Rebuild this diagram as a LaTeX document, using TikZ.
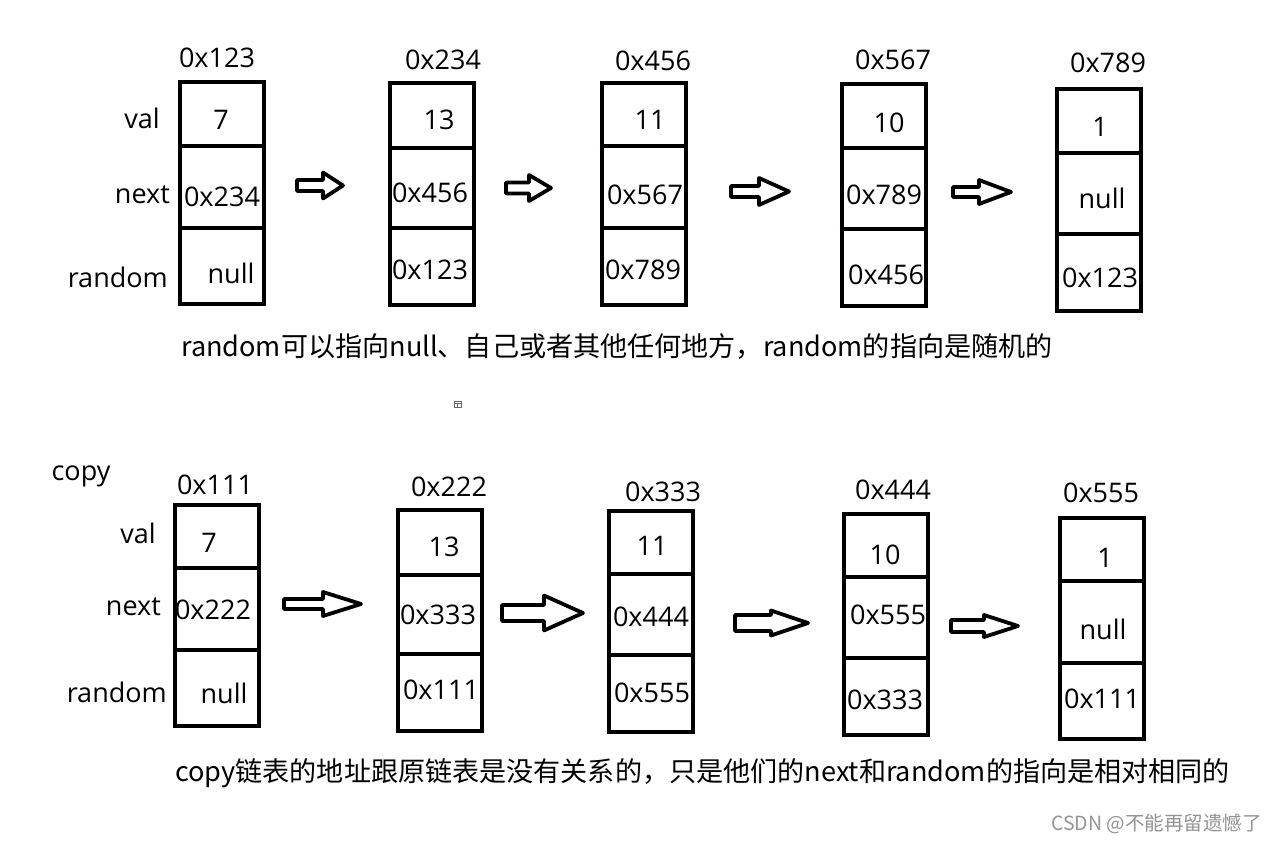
\documentclass[tikz,border=0pt]{standalone}
\usepackage{fontspec}
\setmainfont{Open Sans}
\newfontfamily\cjkfont{Noto Sans CJK SC}
\usetikzlibrary{calc}

% hollow block arrow: start, tip, head length, shaft half height, head half height
\newcommand{\blockarrow}[5]{%
  \draw[arrowline] ($(#1)+(0,#4)$) -- ($(#2)+(-#3,#4)$) -- ($(#2)+(-#3,#5)$) -- (#2)
    -- ($(#2)+(-#3,-#5)$) -- ($(#2)+(-#3,-#4)$) -- ($(#1)+(0,-#4)$) -- cycle;}

\begin{document}
\begin{tikzpicture}[x=1bp,y=-1bp,
    listbox/.style={draw,line width=4bp,inner sep=0pt,minimum width=84bp,minimum height=221bp},
    boxline/.style={line width=4bp},
    arrowline/.style={line width=3.8bp,line join=round},
    txt/.style={inner sep=0pt,font=\fontsize{27bp}{32bp}\selectfont},
    fieldname/.style={txt,anchor=east},
    caption/.style={inner sep=0pt,anchor=west,font=\cjkfont\fontsize{27.1bp}{33bp}\selectfont}]
    \useasboundingbox (0,0) rectangle (1276,843);

    % Original list: boxes
    \node[listbox] (t1) at (221.5,193) {};
    \node[listbox] (t2) at (431.5,194) {};
    \node[listbox] (t3) at (643.5,194) {};
    \node[listbox] (t4) at (883.5,195) {};
    \node[listbox] (t5) at (1099,200) {};
    \draw[boxline] (t1.west |- 0,146) -- (t1.east |- 0,146);
    \draw[boxline] (t1.west |- 0,228) -- (t1.east |- 0,228);
    \draw[boxline] (t2.west |- 0,148) -- (t2.east |- 0,148);
    \draw[boxline] (t2.west |- 0,228) -- (t2.east |- 0,228);
    \draw[boxline] (t3.west |- 0,146) -- (t3.east |- 0,146);
    \draw[boxline] (t3.west |- 0,228) -- (t3.east |- 0,228);
    \draw[boxline] (t4.west |- 0,148) -- (t4.east |- 0,148);
    \draw[boxline] (t4.west |- 0,229) -- (t4.east |- 0,229);
    \draw[boxline] (t5.west |- 0,153) -- (t5.east |- 0,153);
    \draw[boxline] (t5.west |- 0,234) -- (t5.east |- 0,234);

    % Original list: addresses and fields
    \node[txt] (t1addr) at (217,58) {0x123};
    \node[txt] (t2addr) at (443,60) {0x234};
    \node[txt] (t3addr) at (653,61) {0x456};
    \node[txt] (t4addr) at (893,60) {0x567};
    \node[txt] (t5addr) at (1108,63) {0x789};
    \node[fieldname] (tval) at (160,118) {val};
    \node[fieldname] (tnext) at (170,195) {next};
    \node[fieldname] (trand) at (168,277) {random};
    \node[txt] (t1val) at (221,120) {7};
    \node[txt] (t1next) at (222,197) {0x234};
    \node[txt] (t1rand) at (231,273) {null};
    \node[txt] (t2val) at (439,120) {13};
    \node[txt] (t2next) at (430,193) {0x456};
    \node[txt] (t2rand) at (430,270) {0x123};
    \node[txt] (t3val) at (650,120) {11};
    \node[txt] (t3next) at (645,195) {0x567};
    \node[txt] (t3rand) at (643,270) {0x789};
    \node[txt] (t4val) at (889,123) {10};
    \node[txt] (t4next) at (884,195) {0x789};
    \node[txt] (t4rand) at (886,275) {0x456};
    \node[txt] (t5val) at (1100,127) {1};
    \node[txt] (t5next) at (1102,198) {null};
    \node[txt] (t5rand) at (1100,278) {0x123};

    % Original list: arrows
    \coordinate (ta1s) at (297,185.5);  \coordinate (ta1e) at (343,185.5);
    \coordinate (ta2s) at (506,188);    \coordinate (ta2e) at (551,188);
    \coordinate (ta3s) at (731,191.5);  \coordinate (ta3e) at (789,191.5);
    \coordinate (ta4s) at (953,192);    \coordinate (ta4e) at (1011,192);
    \blockarrow{ta1s}{ta1e}{20}{5.5}{13}
    \blockarrow{ta2s}{ta2e}{22}{5.5}{13}
    \blockarrow{ta3s}{ta3e}{30}{5.5}{13.5}
    \blockarrow{ta4s}{ta4e}{32}{5}{12}

    \node[caption] (tcap) at (181,346) {random可以指向null、自己或者其他任何地方，random的指向是随机的};

    % small icon
    \draw[gray!80!black,line width=1bp] (454.5,401.5) rectangle (461.5,407.5);
    \draw[gray!80!black,line width=1bp] (454.5,403.5) -- (461.5,403.5);
    \draw[gray!80!black,line width=1bp] (457,403.5) -- (457,407.5);

    % Copied list: boxes
    \node[txt] (copy) at (81,476) {copy};
    \node[listbox] (c1) at (216.5,615.5) {};
    \node[listbox] (c2) at (439.5,620) {};
    \node[listbox] (c3) at (651,621) {};
    \node[listbox] (c4) at (886,624.5) {};
    \node[listbox] (c5) at (1102,628) {};
    \draw[boxline] (c1.west |- 0,568) -- (c1.east |- 0,568);
    \draw[boxline] (c1.west |- 0,650) -- (c1.east |- 0,650);
    \draw[boxline] (c2.west |- 0,575) -- (c2.east |- 0,575);
    \draw[boxline] (c2.west |- 0,654) -- (c2.east |- 0,654);
    \draw[boxline] (c3.west |- 0,574) -- (c3.east |- 0,574);
    \draw[boxline] (c3.west |- 0,655) -- (c3.east |- 0,655);
    \draw[boxline] (c4.west |- 0,577) -- (c4.east |- 0,577);
    \draw[boxline] (c4.west |- 0,658) -- (c4.east |- 0,658);
    \draw[boxline] (c5.west |- 0,581) -- (c5.east |- 0,581);
    \draw[boxline] (c5.west |- 0,663) -- (c5.east |- 0,663);

    % Copied list: addresses and fields
    \node[txt] (c1addr) at (215,485) {0x111};
    \node[txt] (c2addr) at (449,487) {0x222};
    \node[txt] (c3addr) at (663,492) {0x333};
    \node[txt] (c4addr) at (893,490) {0x444};
    \node[txt] (c5addr) at (1101,493) {0x555};
    \node[fieldname] (cval) at (156,533) {val};
    \node[fieldname] (cnext) at (161,607) {next};
    \node[fieldname] (crand) at (167,692) {random};
    \node[txt] (c1val) at (209,543) {7};
    \node[txt] (c1next) at (213,610) {0x222};
    \node[txt] (c1rand) at (224,693) {null};
    \node[txt] (c2val) at (444,547) {13};
    \node[txt] (c2next) at (438,615) {0x333};
    \node[txt] (c2rand) at (441,690) {0x111};
    \node[txt] (c3val) at (652,546) {11};
    \node[txt] (c3next) at (651,617) {0x444};
    \node[txt] (c3rand) at (652,693) {0x555};
    \node[txt] (c4val) at (885,555) {10};
    \node[txt] (c4next) at (888,615) {0x555};
    \node[txt] (c4rand) at (885,700) {0x333};
    \node[txt] (c5val) at (1105,558) {1};
    \node[txt] (c5next) at (1103,629) {null};
    \node[txt] (c5rand) at (1102,699) {0x111};

    % Copied list: arrows
    \coordinate (ca1s) at (284,604);  \coordinate (ca1e) at (361,604);
    \coordinate (ca2s) at (502,613);  \coordinate (ca2e) at (583,613);
    \coordinate (ca3s) at (735,623);  \coordinate (ca3e) at (808,623);
    \coordinate (ca4s) at (951,626);  \coordinate (ca4e) at (1018,626);
    \blockarrow{ca1s}{ca1e}{38}{5}{12}
    \blockarrow{ca2s}{ca2e}{39}{8}{17.5}
    \blockarrow{ca3s}{ca3e}{37}{8}{12.5}
    \blockarrow{ca4s}{ca4e}{34}{6}{11}

    \node[caption] (ccap) at (175,773) {copy链表的地址跟原链表是没有关系的，只是他们的next和random的指向是相对相同的};

    % watermark
    \node[inner sep=0pt,anchor=east,text=gray!85,font=\cjkfont\fontsize{19.5bp}{23bp}\selectfont] (mark) at (1262,824) {CSDN @不能再留遗憾了};
\end{tikzpicture}
\end{document}
